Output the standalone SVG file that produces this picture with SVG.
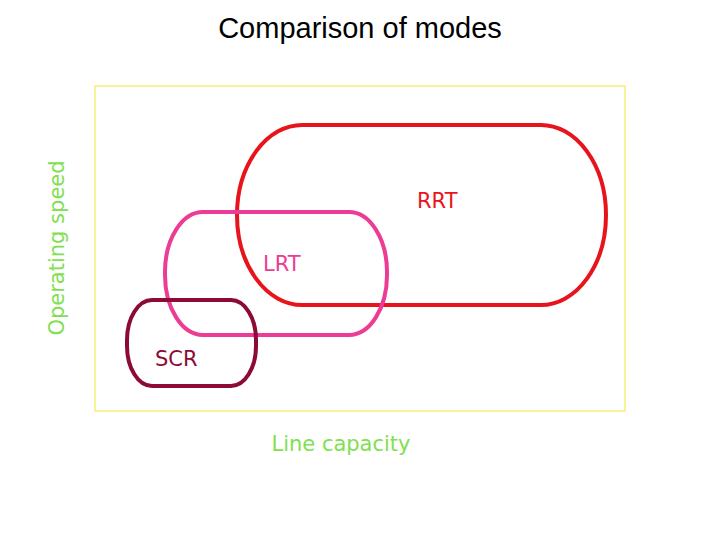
<svg xmlns="http://www.w3.org/2000/svg" width="720" height="540" viewBox="0 0 720 540">
<style>
.lab{font-family:"DejaVu Sans",sans-serif;font-size:21px}
.sh{fill:none;stroke-width:4}
</style>
<rect width="720" height="540" fill="#fff"/>
<text x="360" y="38" text-anchor="middle" font-family="Liberation Sans, sans-serif" font-size="29" fill="#000">Comparison of modes</text>
<rect x="95" y="86" width="530" height="325" fill="none" stroke="#f5f07a" stroke-width="1.5"/>
<g id="RRT"><rect class="sh" x="237" y="125" width="369" height="180" rx="65" ry="90" stroke="#e8141c"/>
<text class="lab" x="417" y="208" fill="#e8141c">RRT</text></g>
<g id="LRT"><rect class="sh" x="165" y="212" width="222" height="123" rx="38" ry="60" stroke="#ec3c94"/>
<text class="lab" x="263" y="271" fill="#ec3c94">LRT</text></g>
<g id="SCR"><rect class="sh" x="127" y="300" width="129" height="86" rx="25" ry="40" stroke="#8c0a34"/>
<text class="lab" x="155" y="366" fill="#8c0a34">SCR</text></g>
<g id="axes">
<text class="lab" x="341" y="451" text-anchor="middle" fill="#80e050">Line capacity</text>
<text class="lab" transform="translate(64,248) rotate(-90)" text-anchor="middle" fill="#80e050">Operating speed</text>
</g>
<g id="connectors"/>
</svg>
